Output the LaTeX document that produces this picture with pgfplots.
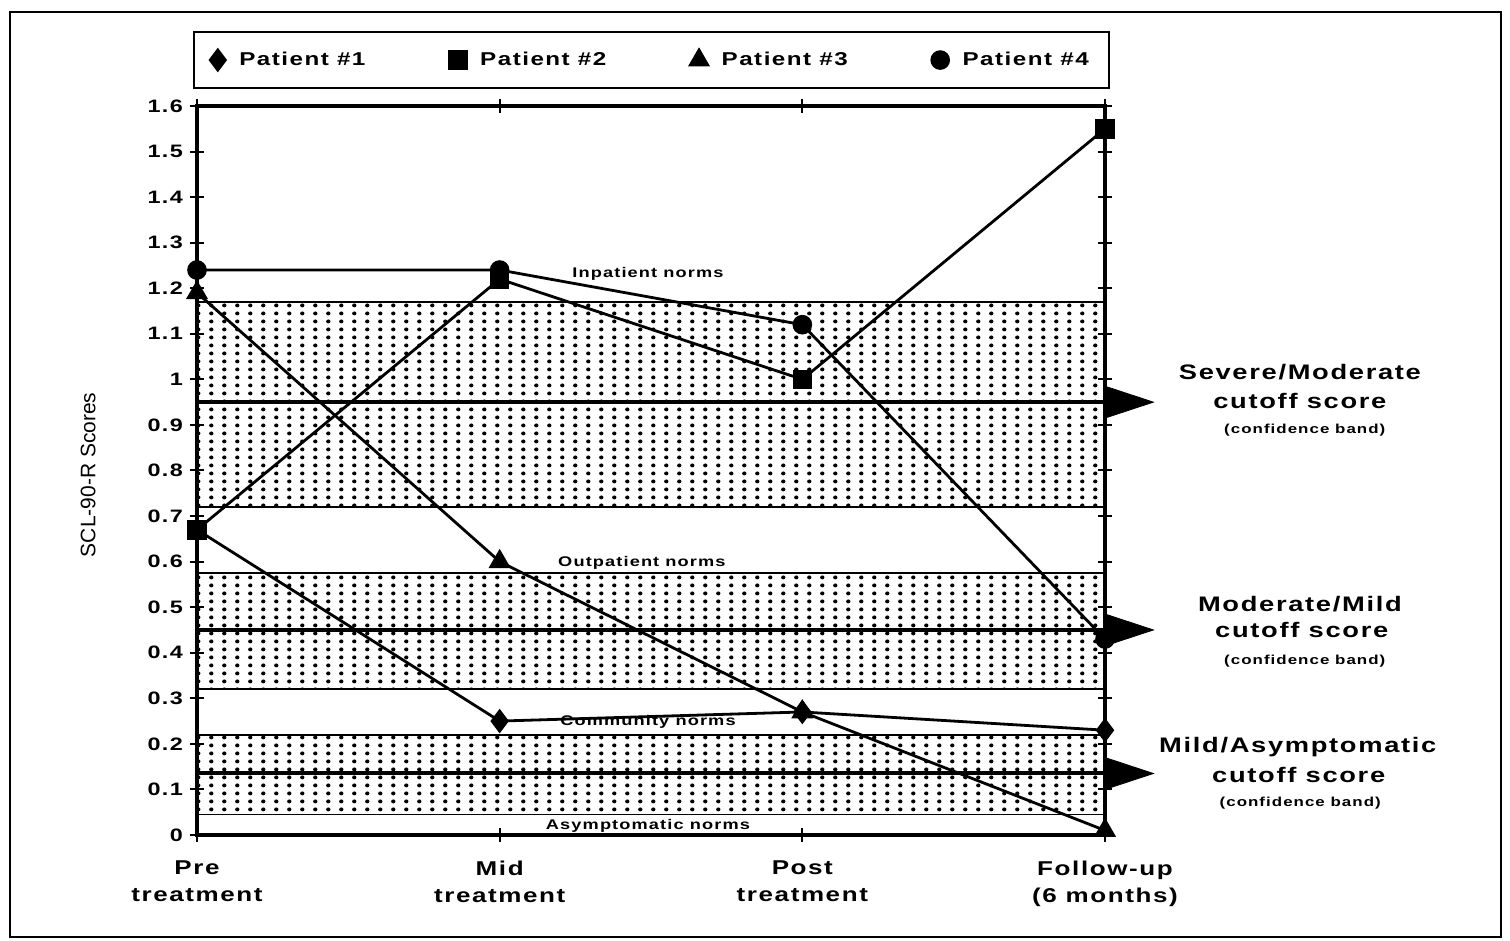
\documentclass[border=0pt]{standalone}
\usepackage{fontspec}
\setmainfont{Liberation Sans}[FakeStretch=1.3,LetterSpace=8]
\newfontfamily\plainfont{Liberation Sans}
\usepackage{pgfplots}
\pgfplotsset{compat=1.18}
\usetikzlibrary{patterns}

% dotted screen used for the confidence bands
\pgfdeclarepatternformonly{scrdots}{\pgfqpoint{0pt}{0pt}}{\pgfqpoint{6.4pt}{4pt}}{\pgfqpoint{6.4pt}{4pt}}{%
  \pgfpathcircle{\pgfqpoint{3.2pt}{2pt}}{1.1pt}\pgfusepath{fill}}

\begin{document}
\begin{tikzpicture}
\useasboundingbox (0,0) rectangle (755pt,470.5pt);
\draw[line width=1.2pt] (5pt,2pt) rectangle (750.5pt,464.5pt);
\begin{axis}[
    at={(98.5pt,53pt)}, anchor=south west,
    scale only axis, width=454pt, height=364.5pt,
    xmin=0, xmax=3, ymin=0, ymax=1.6,
    clip=false,
    axis line style={line width=1.6pt},
    tick align=center, major tick length=7pt,
    tick style={line width=1pt, black},
    xtick={0,1,2,3},
    xticklabels={{Pre\\treatment},{Mid\\treatment},{Post\\treatment},{Follow-up\\(6 months)}},
    xticklabel style={align=center, font=\bfseries\fontsize{10}{13.5}\selectfont, yshift=-6pt},
    ytick={0,0.1,0.2,0.3,0.4,0.5,0.6,0.7,0.8,0.9,1,1.1,1.2,1.3,1.4,1.5,1.6},
    yticklabel style={font=\bfseries\fontsize{9}{10}\selectfont},
    /pgf/number format/assume math mode=true,
    ylabel={SCL-90-R Scores},
    ylabel style={font=\plainfont\fontsize{10.5}{12}\selectfont, at={(axis description cs:-0.12,0.494)}, anchor=center},
    legend columns=4,
    legend cell align=left,
    legend style={at={(axis description cs:0.5006,1.063)}, anchor=center, draw=black, line width=1pt,
        font=\bfseries\fontsize{9.3}{11}\selectfont, inner xsep=8pt, inner ysep=8pt,
        /tikz/every odd column/.append style={column sep=5pt},
        /tikz/every even column/.append style={column sep=40pt}},
    legend image code/.code={\draw[#1, mark repeat=2, mark phase=2] plot coordinates {(0pt,0pt) (0.1pt,0pt) (0.2pt,0pt)};},
]
% confidence bands
\addplot[forget plot, draw=black, line width=0.8pt, pattern=scrdots] coordinates {(0,0.72) (3,0.72) (3,1.17) (0,1.17)} -- cycle;
\addplot[forget plot, draw=black, line width=0.8pt, pattern=scrdots] coordinates {(0,0.32) (3,0.32) (3,0.575) (0,0.575)} -- cycle;
\addplot[forget plot, draw=black, line width=0.8pt, pattern=scrdots] coordinates {(0,0.045) (3,0.045) (3,0.22) (0,0.22)} -- cycle;
% cutoff scores
\addplot[forget plot, line width=2pt] coordinates {(0,0.95) (3,0.95)};
\addplot[forget plot, line width=2pt] coordinates {(0,0.45) (3,0.45)};
\addplot[forget plot, line width=2pt] coordinates {(0,0.135) (3,0.135)};
% pointers
\addplot[forget plot, fill=black, draw=black] coordinates {(3,0.985) (3.16,0.95) (3,0.915)} -- cycle;
\addplot[forget plot, fill=black, draw=black] coordinates {(3,0.485) (3.16,0.45) (3,0.415)} -- cycle;
\addplot[forget plot, fill=black, draw=black] coordinates {(3,0.17) (3.16,0.135) (3,0.10)} -- cycle;
% patients
\addplot[black, line width=1.4pt, mark=diamond*, mark size=5pt] coordinates {(0,0.67) (1,0.25) (2,0.27) (3,0.23)};
\addplot[black, line width=1.4pt, mark=square*, mark size=4.2pt] coordinates {(0,0.67) (1,1.22) (2,1.00) (3,1.55)};
\addplot[black, line width=1.4pt, mark=triangle*, mark size=5pt] coordinates {(0,1.19) (1,0.60) (2,0.27) (3,0.01)};
\addplot[black, line width=1.4pt, mark=*, mark size=4.2pt] coordinates {(0,1.24) (1,1.24) (2,1.12) (3,0.43)};
\legend{Patient \#1, Patient \#2, Patient \#3, Patient \#4}
% band labels
\node[font=\bfseries\fontsize{7}{8}\selectfont] at (axis cs:1.49,1.231) {Inpatient norms};
\node[font=\bfseries\fontsize{7}{8}\selectfont] at (axis cs:1.47,0.597) {Outpatient norms};
\node[font=\bfseries\fontsize{7}{8}\selectfont] at (axis cs:1.49,0.248) {Community norms};
\node[font=\bfseries\fontsize{7}{8}\selectfont] at (axis cs:1.49,0.02) {Asymptomatic norms};
% cutoff annotations
\node[font=\bfseries\fontsize{10.5}{12}\selectfont] at (axis cs:3.644,1.016) {Severe/Moderate};
\node[font=\bfseries\fontsize{10.5}{12}\selectfont] at (axis cs:3.644,0.953) {cutoff score};
\node[font=\bfseries\fontsize{6.5}{8}\selectfont] at (axis cs:3.66,0.889) {(confidence band)};
\node[font=\bfseries\fontsize{10.5}{12}\selectfont] at (axis cs:3.644,0.507) {Moderate/Mild};
\node[font=\bfseries\fontsize{10.5}{12}\selectfont] at (axis cs:3.65,0.45) {cutoff score};
\node[font=\bfseries\fontsize{6.5}{8}\selectfont] at (axis cs:3.66,0.382) {(confidence band)};
\node[font=\bfseries\fontsize{10.5}{12}\selectfont] at (axis cs:3.637,0.193) {Mild/Asymptomatic};
\node[font=\bfseries\fontsize{10.5}{12}\selectfont] at (axis cs:3.64,0.132) {cutoff score};
\node[font=\bfseries\fontsize{6.5}{8}\selectfont] at (axis cs:3.645,0.07) {(confidence band)};
\end{axis}
\end{tikzpicture}
\end{document}
